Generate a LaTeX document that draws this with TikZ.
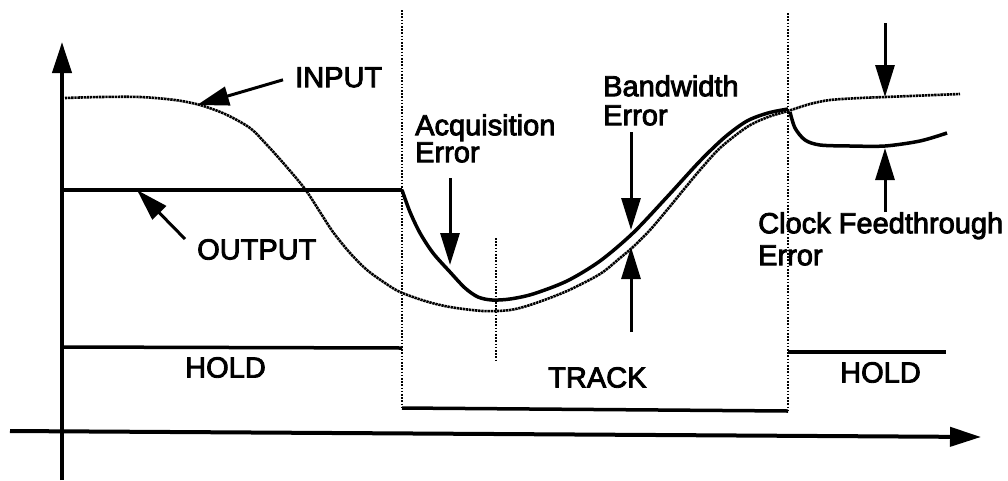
\documentclass[tikz,border=0pt]{standalone}
\usepackage{fontspec}
\setmainfont{Liberation Sans}
\newfontfamily\lblfont{Liberation Sans}[FakeBold=3]
\usepackage{tikz}
\usetikzlibrary{arrows.meta,positioning,calc}

\begin{document}
\begin{tikzpicture}[
  x=1pt, y=-1pt,
  lbl/.style={font=\lblfont\fontsize{29}{29}\selectfont, inner sep=0pt, align=left, anchor=north west},
  arr/.style={-{Triangle[length=32pt,width=19pt]}, line width=3pt},
  axis/.style={-{Triangle[length=31pt,width=19pt]}, line width=4pt},
  sig/.style={line width=3.5pt},
  inwave/.style={line width=2.6pt, dash pattern=on 2.4pt off 0.7pt},
  dots/.style={line width=1.6pt, dash pattern=on 1.6pt off 1.6pt}
]
\useasboundingbox (0,0) rectangle (1008,480);

\coordinate (yBot) at (62,480);
\coordinate (yTop) at (62,42);
\coordinate (xL) at (10,431);
\coordinate (xR) at (981,437);
\draw[axis] (yBot) -- (yTop);
\draw[axis] (xL) -- (xR);

\node[lbl] (inp) at (295,67) {INPUT};
\node[lbl] (outp) at (197,239) {OUTPUT};
\node[lbl, font=\lblfont\fontsize{29}{27}\selectfont] (acq) at (415,114) {Acquisition\\Error};
\node[lbl] (bw) at (603,75) {Bandwidth\\Error};
\node[lbl, font=\lblfont\fontsize{29}{32}\selectfont] (cf) at (758,212) {Clock Feedthrough\\Error};
\node[lbl] (hold1) at (185,357) {HOLD};
\node[lbl] (track) at (548,367) {TRACK};
\node[lbl] (hold2) at (840,362) {HOLD};

% switch edges
\draw[dots] (402,10) -- (402,408);
\draw[dots] (788,13) -- (788,411);
\draw[dots] (496,238) -- (496,362);

\draw[sig] (62,347) -- (402,348);
\draw[sig] (402,408) -- (788,411);
\draw[sig] (788,352) -- (946,352);

\draw[inwave] plot[smooth] coordinates {(65,98) (100,97) (140,97) (175,100) (200,105) (225,114) (250,128) (267,145) (285,165) (305,189) (320,212) (333,232) (350,253) (367,270) (385,283) (400,292) (425,301) (450,307) (483,311) (510,310) (533,304) (567,291) (600,274) (620,258) (633,247) (650,230) (667,210) (685,188) (700,170) (720,148) (747,127) (768,117) (788,111) (810,104) (830,100) (860,98) (885,97) (960,94)};

\draw[sig] (62,190) -- (402,190);
\draw[sig] plot[smooth] coordinates {(402,190) (410,212) (420,233) (433,253) (450,272) (465,288) (478,297) (492,300) (510,299) (533,294) (567,281) (600,261) (633,233) (667,197) (700,161) (725,137) (747,121) (768,113) (788,109)};
\draw[sig] plot[smooth] coordinates {(790,112) (795,128) (805,140) (820,145) (850,146) (885,146) (920,141) (947,133)};

\coordinate (inTip) at (197,105);
\coordinate (outTip) at (137,190);
\coordinate (acqA) at (450,178);
\coordinate (acqB) at (450,265);
\coordinate (bwA) at (631,132);
\coordinate (bwB) at (631,230);
\coordinate (bwC) at (631,332);
\coordinate (bwD) at (631,247);
\coordinate (cfA) at (885,23);
\coordinate (cfB) at (885,97);
\coordinate (cfD) at (885,148);

\draw[arr] ([xshift=-12pt,yshift=-2.5pt]inp.west) -- (inTip);
\draw[arr] ([xshift=-12pt]outp.north west) -- (outTip);
\draw[arr] (acqA) -- (acqB);
\draw[arr] (bwA) -- (bwB);
\draw[arr] (bwC) -- (bwD);
\draw[arr] (cfA) -- (cfB);
\draw[arr] (cf.north west -| cfD) -- (cfD);
\end{tikzpicture}
\end{document}
